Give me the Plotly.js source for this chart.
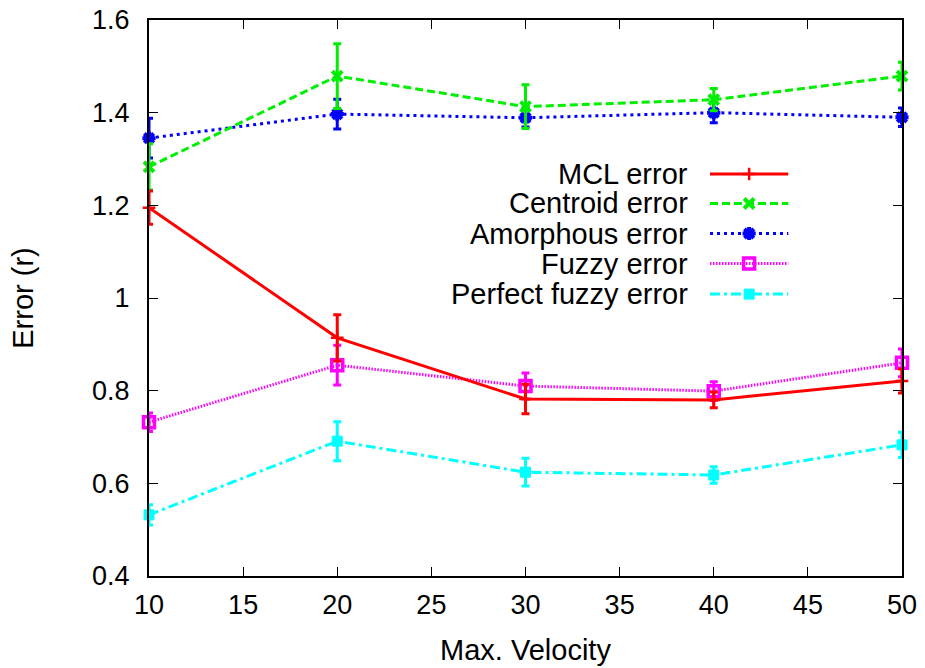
<!DOCTYPE html>
<html>
<head>
<meta charset="utf-8">
<script src="https://cdn.plot.ly/plotly-3.0.1.min.js"></script>
<style>html,body{margin:0;padding:0;background:#fff;}#chart{width:925px;height:668px;}</style>
</head>
<body>
<div id="chart"></div>
<script>
// ---- data ----
const velocity = [10, 20, 30, 40, 50];
const seriesNames = ["MCL error", "Centroid error", "Amorphous error", "Fuzzy error", "Perfect fuzzy error"];
const mclError = [1.195, 0.914, 0.782, 0.780, 0.821];
const mclErrBar = [0.036, 0.050, 0.032, 0.017, 0.026];
const centroidError = [1.283, 1.479, 1.413, 1.428, 1.479];
const centroidErrBar = [0.05, 0.07, 0.047, 0.024, 0.03];
const amorphousError = [1.345, 1.397, 1.389, 1.400, 1.390];
const amorphousErrBar = [0.043, 0.032, 0.02, 0.022, 0.02];
const fuzzyError = [0.732, 0.855, 0.810, 0.799, 0.860];
const fuzzyErrBar = [0.02, 0.043, 0.028, 0.02, 0.03];
const perfectFuzzyError = [0.532, 0.691, 0.624, 0.618, 0.683];
const perfectFuzzyErrBar = [0.022, 0.042, 0.03, 0.018, 0.027];

const yTickVals = [0.4, 0.6, 0.8, 1.0, 1.2, 1.4, 1.6];
const yTickText = ["0.4", "0.6", "0.8", "1", "1.2", "1.4", "1.6"];
const xTickVals = [10, 15, 20, 25, 30, 35, 40, 45, 50];

// ---- styles ----
const styles = [
  {color: "#ff0000", dash: "solid", symbol: "cross-thin-open", size: 9, mlw: 2.5, lw: 3},
  {color: "#00ee00", dash: "8px,4px", symbol: "x-thin-open", size: 10, mlw: 4, lw: 3},
  {color: "#0000ff", dash: "3px,4px", symbol: "asterisk-open", size: 11, mlw: 4, lw: 3},
  {color: "#ff00ff", dash: "1.5px,1.5px", symbol: "square-open", size: 11, mlw: 3.5, lw: 3},
  {color: "#00ffff", dash: "10px,4px,3px,4px", symbol: "square", size: 10, mlw: 1, lw: 3}
];
const yVals = [mclError, centroidError, amorphousError, fuzzyError, perfectFuzzyError];
const eVals = [mclErrBar, centroidErrBar, amorphousErrBar, fuzzyErrBar, perfectFuzzyErrBar];

const traces = [];
for (let i = 4; i >= 0; i--) {
  const s = styles[i];
  traces.push({
    x: velocity, y: yVals[i], name: seriesNames[i],
    type: "scatter", mode: "lines+markers",
    line: {color: s.color, width: s.lw, dash: s.dash},
    marker: {color: s.color, symbol: s.symbol, size: s.size, line: {color: s.color, width: s.mlw}},
    error_y: {type: "data", array: eVals[i], visible: true, color: s.color, thickness: 3, width: 4},
    showlegend: false, cliponaxis: false
  });
}

// ---- custom legend (text left, sample right) ----
const legRowY = [0.723, 0.670, 0.616, 0.562, 0.507];
const legX0 = 0.745, legX1 = 0.849, legXm = 0.797, legTextX = 0.718;
const legFont = {family: "Liberation Sans, Arial, sans-serif", size: 29, color: "#000"};
const annotations = [];
for (let i = 0; i < 5; i++) {
  const s = styles[i];
  traces.push({
    x: [legX0, legX1], y: [legRowY[i], legRowY[i]], xaxis: "x2", yaxis: "y2",
    type: "scatter", mode: "lines", showlegend: false, hoverinfo: "skip",
    line: {color: s.color, width: s.lw, dash: s.dash}
  });
  traces.push({
    x: [legXm], y: [legRowY[i]], xaxis: "x2", yaxis: "y2",
    type: "scatter", mode: "markers", showlegend: false, hoverinfo: "skip",
    marker: {color: s.color, symbol: s.symbol, size: s.size, line: {color: s.color, width: s.mlw}}
  });
  annotations.push({
    xref: "paper", yref: "paper", x: legTextX, y: legRowY[i],
    xanchor: "right", yanchor: "middle", showarrow: false,
    text: seriesNames[i], font: legFont
  });
}

const tickFont = {family: "Liberation Sans, Arial, sans-serif", size: 27, color: "#000"};
const titleFont = {family: "Liberation Sans, Arial, sans-serif", size: 29, color: "#000"};
const layout = {
  width: 925, height: 668,
  margin: {l: 149, r: 23, t: 20, b: 92, pad: 0},
  paper_bgcolor: "#fff", plot_bgcolor: "#fff",
  showlegend: false,
  font: tickFont,
  xaxis: {
    range: [10, 50], tickvals: xTickVals, ticktext: xTickVals.map(String),
    ticks: "inside", ticklen: 9, tickwidth: 1, tickcolor: "#000",
    showline: true, linecolor: "#000", linewidth: 2, mirror: "ticks",
    showgrid: false, zeroline: false, tickfont: tickFont, ticklabelstandoff: 4,
    title: {text: "Max. Velocity", font: titleFont, standoff: 20}
  },
  yaxis: {
    range: [0.4, 1.6], tickvals: yTickVals, ticktext: yTickText,
    ticks: "inside", ticklen: 9, tickwidth: 1, tickcolor: "#000",
    showline: true, linecolor: "#000", linewidth: 2, mirror: "ticks",
    showgrid: false, zeroline: false, tickfont: tickFont, ticklabelstandoff: 12,
    title: {text: "Error (r)", font: titleFont, standoff: 50}
  },
  xaxis2: {overlaying: "x", range: [0, 1], visible: false, anchor: "y2"},
  yaxis2: {overlaying: "y", range: [0, 1], visible: false, anchor: "x2"},
  annotations: annotations
};

Plotly.newPlot("chart", traces, layout, {displayModeBar: false, staticPlot: true});
</script>
</body>
</html>
